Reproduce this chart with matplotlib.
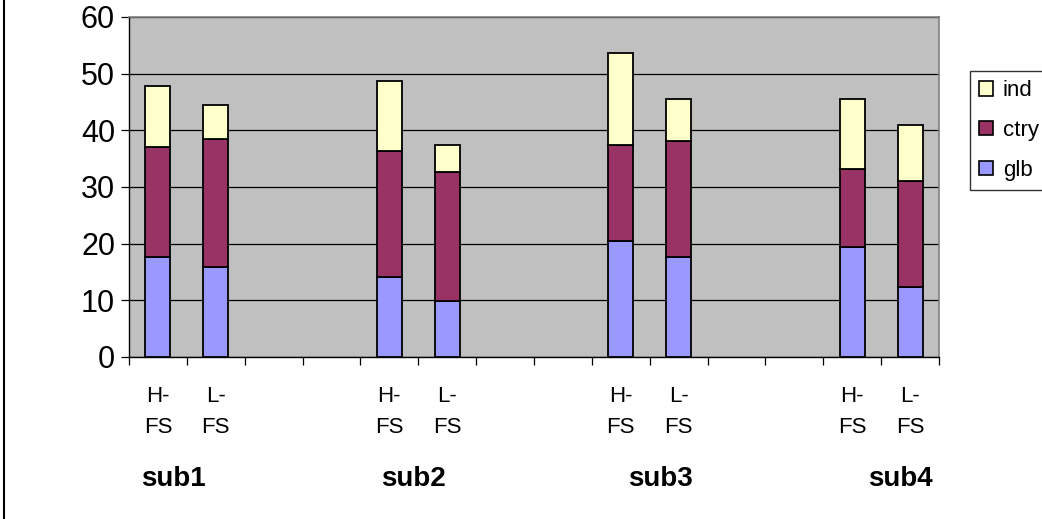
import matplotlib
matplotlib.use("Agg")
import matplotlib.pyplot as plt
from matplotlib.lines import Line2D
from matplotlib.patches import Patch
import numpy as np

plt.rcParams['font.family'] = ['Liberation Sans', 'DejaVu Sans']

groups = ['sub1', 'sub2', 'sub3', 'sub4']
bar_labels = ['H-\nFS', 'L-\nFS']
glb = [17.6, 15.9, 14.1, 9.8, 20.4, 17.6, 19.4, 12.3]
ctry = [19.4, 22.5, 22.2, 22.9, 17.0, 20.5, 13.8, 18.8]
ind = [10.9, 6.0, 12.4, 4.7, 16.2, 7.4, 12.3, 9.8]
series_names = ['glb', 'ctry', 'ind']
colors = ['#9999FF', '#993366', '#FFFFCC']

slots_per_group = 4
n_slots = len(groups) * slots_per_group - 2

pos = np.array([g * slots_per_group + k for g in range(len(groups)) for k in range(len(bar_labels))])
labels = [bar_labels[k] for g in range(len(groups)) for k in range(len(bar_labels))]

W, H = 1042, 519
fig = plt.figure(figsize=(W / 100, H / 100), dpi=100)
ax = fig.add_axes([129 / W, 1 - 357 / H, (939 - 129) / W, (357 - 17) / H])
ax.set_facecolor('#C0C0C0')

bottom = np.zeros(len(pos))
for vals, c in zip([glb, ctry, ind], colors):
    ax.bar(pos, vals, width=0.43, bottom=bottom, color=c, edgecolor='black',
           linewidth=1.3, zorder=3)
    bottom += np.array(vals)

ax.set_xlim(-0.5, n_slots - 0.5)
ax.set_ylim(0, 60)
ax.set_yticks(np.arange(0, 61, 10))
ax.yaxis.grid(True, color='black', linewidth=0.9, zorder=1)
ax.set_axisbelow(True)
ax.tick_params(axis='y', labelsize=22, length=6, width=0.9, direction='out', pad=4)

ax.set_xticks(pos)
ax.set_xticklabels(labels, fontsize=16, linespacing=1.62)
ax.set_xticks(np.arange(-0.5, n_slots, 1.0), minor=True)
ax.tick_params(axis='x', which='major', length=0, pad=21)
ax.tick_params(axis='x', which='minor', length=6, width=0.9, direction='out')

for s in ['top', 'right']:
    ax.spines[s].set_color('#808080')
    ax.spines[s].set_linewidth(1.2)
for s in ['left', 'bottom']:
    ax.spines[s].set_color('black')
    ax.spines[s].set_linewidth(1.0)

group_x = [0.26, 4.41, 8.69, 12.83]
for gx, name in zip(group_x, groups):
    ax.text(gx, -0.36, name, transform=ax.get_xaxis_transform(), ha='center', va='center',
            fontsize=20, fontweight='bold')

handles = [Patch(facecolor=c, edgecolor='black', linewidth=1.2) for c in colors]
leg = fig.legend(handles[::-1], series_names[::-1], loc='upper left',
                 bbox_to_anchor=(970 / W, 1 - 71 / H), fontsize=16,
                 frameon=True, fancybox=False, edgecolor='black',
                 handlelength=0.6, handleheight=0.6, handletextpad=0.45,
                 labelspacing=0.85, borderpad=0.42, borderaxespad=0)
leg.get_frame().set_linewidth(1.0)

fig.add_artist(Line2D([4 / W, 4 / W], [0, 1], color='black', linewidth=1.5,
                      transform=fig.transFigure))

fig.savefig('out.png', dpi=100)
